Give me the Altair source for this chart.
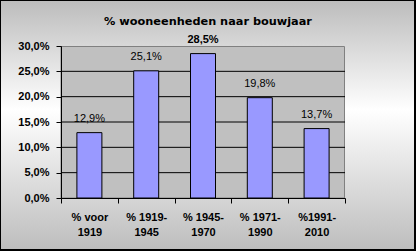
import altair as alt
import pandas as pd

categories = ["% voor|1919", "% 1919-|1945", "% 1945-|1970", "% 1971-|1990", "%1991-|2010"]
values = [0.129, 0.251, 0.285, 0.198, 0.137]
value_labels = ["12,9%", "25,1%", "28,5%", "19,8%", "13,7%"]
y_ticks = [0.0, 0.05, 0.10, 0.15, 0.20, 0.25, 0.30]
title_text = "% wooneenheden naar bouwjaar"
bold_category = "% 1945-|1970"

W, H = 284, 152
PAD_L, PAD_T, PAD_R, PAD_B = 61, 46, 71, 53

bars_df = pd.DataFrame({"cat": categories, "v": values, "lab": value_labels})
grid_df = pd.DataFrame({"v": y_ticks[1:-1]})
one_df = pd.DataFrame({"a": [0]})
title_df = pd.DataFrame({"t": [title_text]})

x_axis = alt.Axis(
    title=None, labelAngle=0, labelExpr="split(datum.label, '|')",
    labelFont="Liberation Sans", labelFontWeight="bold", labelFontSize=11,
    labelColor="black", labelLineHeight=15, labelPadding=8, labelBaseline="top",
    tickBand="extent", tickSize=5, tickColor="black", domainColor="black",
    grid=False, zindex=1,
)
y_axis = alt.Axis(
    title=None, values=y_ticks,
    labelExpr="replace(format(datum.value, '.1%'), '.', ',')",
    labelFont="Liberation Sans", labelFontWeight="bold", labelFontSize=11,
    labelColor="black", labelPadding=7, tickSize=5, tickColor="black",
    domainColor="black", grid=False, zindex=1,
)
x_scale = alt.Scale(paddingInner=0, paddingOuter=0)
y_scale = alt.Scale(domain=[0, 0.30], nice=False)

def X():
    return alt.X("cat:N", sort=categories, scale=x_scale, axis=x_axis)

def Y():
    return alt.Y("v:Q", scale=y_scale, axis=y_axis)

gradient = alt.LinearGradient(
    gradient="linear",
    stops=[
        alt.GradientStop(color="#bcbcbc", offset=0),
        alt.GradientStop(color="#ffffff", offset=0.44),
        alt.GradientStop(color="#bdbdbd", offset=1),
    ],
    x1=0, x2=0, y1=0, y2=1,
)

outer = alt.Chart(one_df).mark_rect(fill=gradient, stroke="black", strokeWidth=2).encode(
    x=alt.value(-PAD_L), x2=alt.value(W + PAD_R - 1),
    y=alt.value(-PAD_T), y2=alt.value(H + PAD_B - 1),
)
plot_bg = alt.Chart(one_df).mark_rect(fill="#c0c0c0", stroke="#808080", strokeWidth=1).encode(
    x=alt.value(0), x2=alt.value(W - 0.5), y=alt.value(0.5), y2=alt.value(H),
)
title = alt.Chart(title_df).mark_text(
    font="DejaVu Sans", fontSize=11.3, fontWeight="bold", color="black",
    align="center", baseline="middle",
).encode(x=alt.value(208 - PAD_L), y=alt.value(22 - PAD_T), text="t:N")
grid = alt.Chart(grid_df).mark_rule(color="black", strokeWidth=1).encode(y=Y())
bars = alt.Chart(bars_df).mark_bar(size=25, color="#9999ff", stroke="black", strokeWidth=1).encode(
    x=X(), y=Y()
)
labels_normal = alt.Chart(bars_df).transform_filter(
    alt.datum.cat != bold_category
).mark_text(font="Liberation Sans", fontSize=11, baseline="middle", dy=-14, color="black").encode(
    x=X(), y=Y(), text="lab:N"
)
labels_bold = alt.Chart(bars_df).transform_filter(
    alt.datum.cat == bold_category
).mark_text(font="Liberation Sans", fontSize=11, fontWeight="bold", baseline="middle", dy=-14, color="black").encode(
    x=X(), y=Y(), text="lab:N"
)

chart = alt.layer(outer, plot_bg, title, grid, bars, labels_normal, labels_bold).properties(
    width=W, height=H,
    autosize=alt.AutoSizeParams(type="none"),
    padding={"left": PAD_L, "top": PAD_T, "right": PAD_R, "bottom": PAD_B},
).configure_view(stroke=None).configure(background="white")

chart.save("out.html", embed_options={"renderer": "svg", "actions": False})
